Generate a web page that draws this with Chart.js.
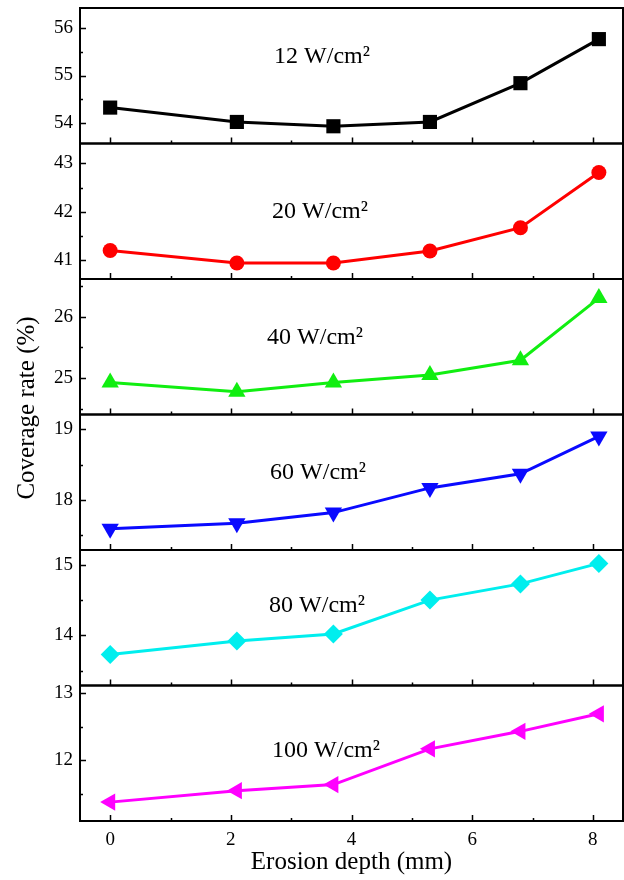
<!DOCTYPE html>
<html>
<head>
<meta charset="utf-8">
<script src="https://cdn.jsdelivr.net/npm/chart.js@4.4.0/dist/chart.umd.min.js"></script>
<style>
  html, body { margin: 0; padding: 0; background: #fff; }
</style>
</head>
<body>
<canvas id="plot" width="624" height="880"></canvas>
<script>
// profundidad de erosión (mm), común a las seis curvas
const profundidad = [0, 2.1, 3.7, 5.3, 6.8, 8.1];
const xTicks = [0, 2, 4, 6, 8];

// potencia de cada panel
const potencias = ['12 W/cm²', '20 W/cm²', '40 W/cm²', '60 W/cm²', '80 W/cm²', '100 W/cm²'];

// tasa de cobertura (%) por potencia
const cobertura12 = [54.33, 54.03, 53.94, 54.03, 54.84, 55.76];
const cobertura20 = [41.20, 40.94, 40.94, 41.19, 41.67, 42.81];
const cobertura40 = [24.93, 24.78, 24.93, 25.05, 25.29, 26.30];
const cobertura60 = [17.59, 17.67, 17.82, 18.17, 18.37, 18.90];
const cobertura80 = [13.73, 13.92, 14.02, 14.50, 14.73, 15.02];
const cobertura100 = [11.38, 11.55, 11.64, 12.17, 12.43, 12.69];

// etiquetas del eje y de cada panel
const ticks12 = [54, 55, 56];
const ticks20 = [41, 42, 43];
const ticks40 = [25, 26];
const ticks60 = [18, 19];
const ticks80 = [14, 15];
const ticks100 = [12, 13];

const series = [cobertura12, cobertura20, cobertura40, cobertura60, cobertura80, cobertura100];
const yTicks = [ticks12, ticks20, ticks40, ticks60, ticks80, ticks100];

// estilo de cada panel (rango, color, marcador, posición del rótulo)
const paneles = [
  { min: 53.58, max: 56.41, color: '#000000', punto: 'rect', giro: 0, radio: 10, rx: 322, ry: 0.36 },
  { min: 40.61, max: 43.41, color: '#ff0000', punto: 'circle', giro: 0, radio: 7.5, rx: 320, ry: 0.50 },
  { min: 24.41, max: 26.61, color: '#11ee11', punto: 'triangle', giro: 0, radio: 10, rx: 315, ry: 0.43 },
  { min: 17.29, max: 19.21, color: '#0a0aff', punto: 'triangle', giro: 180, radio: 10, rx: 318, ry: 0.43 },
  { min: 13.29, max: 15.21, color: '#00eeee', punto: 'rectRot', giro: 0, radio: 9.5, rx: 317, ry: 0.41 },
  { min: 11.10, max: 13.11, color: '#ff00ff', punto: 'triangle', giro: -90, radio: 10, rx: 326, ry: 0.48 }
];

const FUENTE = '"Liberation Serif", "Times New Roman", serif';

let fijarTicks = (valores) => (scale) => {
  scale.ticks = valores.map(v => ({ value: v }));
};

// marcos, ticks interiores y textos
const marcoPlugin = {
  id: 'marco',
  beforeDatasetsDraw(chart) {
    const ctx = chart.ctx;
    const area = chart.chartArea;
    const xs = chart.scales.x;
    ctx.save();
    ctx.strokeStyle = '#000';
    paneles.forEach((p, i) => {
      const ys = chart.scales['y' + i];
      ctx.lineWidth = 1.5;
      ctx.beginPath();
      // ticks x en la base del panel
      for (let v = 0; v <= 8; v++) {
        const px = Math.round(xs.getPixelForValue(v)) + 0.5;
        const largo = v % 2 === 0 ? 6 : 3;
        ctx.moveTo(px, ys.bottom);
        ctx.lineTo(px, ys.bottom - largo);
      }
      // ticks y
      yTicks[i].forEach(t => {
        [t - 0.5, t, t + 0.5].forEach((v, k) => {
          if (v <= p.min || v >= p.max) return;
          const py = Math.round(ys.getPixelForValue(v)) + 0.5;
          ctx.moveTo(area.left, py);
          ctx.lineTo(area.left + (k === 1 ? 6 : 3), py);
        });
      });
      ctx.stroke();
      ctx.lineWidth = 2;
      ctx.strokeRect(area.left, ys.top, area.right - area.left, ys.bottom - ys.top);

      ctx.fillStyle = '#000';
      ctx.font = '24px ' + FUENTE;
      ctx.textAlign = 'center';
      ctx.textBaseline = 'middle';
      ctx.fillText(potencias[i], p.rx, ys.top + p.ry * (ys.bottom - ys.top));
    });

    // título del eje y, a lo largo de toda la columna
    ctx.translate(27, 408);
    ctx.rotate(-Math.PI / 2);
    ctx.font = '25px ' + FUENTE;
    ctx.textAlign = 'center';
    ctx.textBaseline = 'middle';
    ctx.fillText('Coverage rate (%)', 0, 0);
    ctx.restore();
  }
};

let escalas = {
  x: {
    type: 'linear',
    min: -0.5,
    max: 8.5,
    afterBuildTicks: fijarTicks(xTicks),
    afterFit: (s) => { s.height = 59; s.paddingLeft = 0; s.paddingRight = 0; },
    grid: { display: false, drawTicks: false },
    border: { display: false },
    ticks: { color: '#000', padding: 8, font: { family: FUENTE, size: 19 } },
    title: {
      display: true,
      text: 'Erosion depth (mm)',
      color: '#000',
      font: { family: FUENTE, size: 25 },
      padding: { top: 0, bottom: 3 }
    }
  }
};

paneles.forEach((p, i) => {
  escalas['y' + i] = {
    type: 'linear',
    position: 'left',
    stack: 'paneles',
    stackWeight: 1,
    weight: 6 - i,
    min: p.min,
    max: p.max,
    afterBuildTicks: fijarTicks(yTicks[i]),
    afterFit: (s) => { s.width = 80; s.paddingTop = 0; s.paddingBottom = 0; },
    grid: { display: false, drawTicks: false },
    border: { display: false },
    ticks: { color: '#000', padding: 7, font: { family: FUENTE, size: 19 } }
  };
});

let datasets = paneles.map((p, i) => ({
  label: potencias[i],
  data: profundidad.map((x, k) => ({ x: x, y: series[i][k] })),
  yAxisID: 'y' + i,
  borderColor: p.color,
  backgroundColor: p.color,
  borderWidth: 3,
  pointStyle: p.punto,
  rotation: p.giro,
  pointRadius: p.radio,
  pointBorderWidth: 0,
  tension: 0,
  clip: false
}));

let chart1 = new Chart(document.getElementById('plot'), {
  type: 'line',
  data: { datasets: datasets },
  options: {
    responsive: false,
    animation: false,
    devicePixelRatio: 1,
    layout: { autoPadding: false, padding: { top: 8, right: 1, bottom: 0, left: 0 } },
    scales: escalas,
    plugins: {
      legend: { display: false },
      tooltip: { enabled: false }
    }
  },
  plugins: [marcoPlugin]
});
</script>
</body>
</html>
